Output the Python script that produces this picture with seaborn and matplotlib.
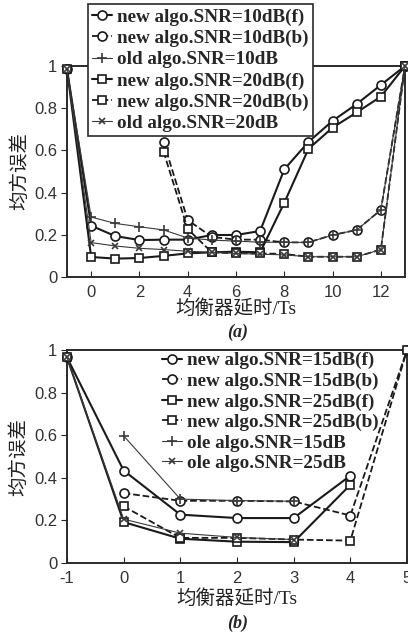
import numpy as np
import pandas as pd
import seaborn as sns
import matplotlib.pyplot as plt

nan = np.nan

# (a) delays -1..13
delay_a = [-1, 0, 1, 2, 3, 4, 5, 6, 7, 8, 9, 10, 11, 12, 13]
new10_f = [0.985, 0.243, 0.194, 0.175, 0.177, 0.177, 0.199, 0.199, 0.218, 0.51, 0.64, 0.74, 0.82, 0.91, 1.0]
new10_b = [nan, nan, nan, nan, 0.64, 0.27, 0.19, 0.177, 0.177, 0.164, 0.164, 0.199, 0.223, 0.318, 1.0]
old10 = [0.985, 0.284, 0.254, 0.238, 0.223, 0.185, 0.175, 0.17, 0.165, 0.164, 0.164, 0.199, 0.223, 0.318, 1.0]
new20_f = [0.985, 0.095, 0.087, 0.09, 0.10, 0.112, 0.117, 0.12, 0.117, 0.352, 0.607, 0.708, 0.78, 0.855, 1.0]
new20_b = [nan, nan, nan, nan, 0.594, 0.227, 0.117, 0.112, 0.112, 0.109, 0.096, 0.096, 0.096, 0.13, 1.0]
old20 = [0.985, 0.163, 0.147, 0.136, 0.13, 0.122, 0.117, 0.112, 0.108, 0.105, 0.096, 0.096, 0.096, 0.13, 1.0]

# (b) delays -1..5
delay_b = [-1, 0, 1, 2, 3, 4, 5]
new15_f = [0.965, 0.434, 0.227, 0.211, 0.211, 0.41, nan]
new15_b = [nan, 0.328, 0.292, 0.292, 0.289, 0.223, 1.0]
new25_f = [0.965, 0.192, 0.114, 0.10, 0.098, 0.367, nan]
new25_b = [nan, 0.266, 0.118, 0.118, 0.11, 0.105, 1.0]
ole15 = [nan, 0.597, 0.30, 0.293, 0.29, nan, nan]
ole25 = [0.965, 0.206, 0.14, 0.12, 0.11, nan, nan]

sns.set_style("ticks")
plt.rcParams["font.family"] = ["Liberation Sans", "Noto Sans CJK SC"]
plt.rcParams["axes.unicode_minus"] = False

ink = "#1a1a1a"
thin = "#3a3a3a"
cjk = ["Liberation Serif", "Noto Sans CJK SC"]

fig = plt.figure(figsize=(4.08, 6.33), dpi=100)
ax1 = fig.add_axes([67 / 408, 1 - 277 / 633, 338 / 408, 211 / 633])
ax2 = fig.add_axes([67 / 408, 1 - 563 / 633, 340 / 408, 213 / 633])


def draw(ax, x, y, label, marker, ls, lw, color, ms):
    df = pd.DataFrame({"x": x, "y": y}).dropna()
    sns.lineplot(data=df, x="x", y="y", ax=ax, label=label, marker=marker,
                 linestyle=ls, linewidth=lw, color=color, markersize=ms,
                 markerfacecolor="white", markeredgecolor=color,
                 markeredgewidth=1.2, clip_on=False, zorder=3)


draw(ax1, delay_a, new10_f, "new algo.SNR=10dB(f)", "o", "-", 1.5, ink, 6.5)
draw(ax1, delay_a, new10_b, "new algo.SNR=10dB(b)", "o", "--", 1.3, ink, 6.5)
draw(ax1, delay_a, old10, "old algo.SNR=10dB", "+", "-", 0.8, thin, 7)
draw(ax1, delay_a, new20_f, "new algo.SNR=20dB(f)", "s", "-", 1.5, ink, 5.5)
draw(ax1, delay_a, new20_b, "new algo.SNR=20dB(b)", "s", "--", 1.3, ink, 5.5)
draw(ax1, delay_a, old20, "old algo.SNR=20dB", "x", "-", 0.8, thin, 5)

draw(ax2, delay_b, new15_f, "new algo.SNR=15dB(f)", "o", "-", 1.5, ink, 6.5)
draw(ax2, delay_b, new15_b, "new algo.SNR=15dB(b)", "o", "--", 1.3, ink, 6.5)
draw(ax2, delay_b, new25_f, "new algo.SNR=25dB(f)", "s", "-", 1.5, ink, 5.5)
draw(ax2, delay_b, new25_b, "new algo.SNR=25dB(b)", "s", "--", 1.3, ink, 5.5)
draw(ax2, delay_b, ole15, "ole algo.SNR=15dB", "+", "-", 0.8, thin, 7)
draw(ax2, delay_b, ole25, "ole algo.SNR=25dB", "x", "-", 0.8, thin, 5)

yt = [0, 0.2, 0.4, 0.6, 0.8, 1]
ytl = ["0", "0.2", "0.4", "0.6", "0.8", "1"]
for ax, xlim, xt in [(ax1, (-1, 13), [0, 2, 4, 6, 8, 10, 12]),
                     (ax2, (-1, 5), [-1, 0, 1, 2, 3, 4, 5])]:
    ax.set_xlim(*xlim)
    ax.set_ylim(0, 1)
    ax.set_xticks(xt)
    ax.set_yticks(yt)
    ax.set_yticklabels(ytl)
    ax.tick_params(axis="x", direction="in", length=4, labelsize=12,
                   labelcolor="#333333", pad=6)
    ax.tick_params(axis="y", direction="out", length=4, labelsize=12,
                   labelcolor="#333333", pad=3)
    for s in ax.spines.values():
        s.set_visible(True)
        s.set_linewidth(1.4)
        s.set_color("#2a2a2a")
    ax.set_ylabel("均方误差", fontsize=14, family=cjk, color="#222222")
    ax.yaxis.set_label_coords(-0.14, 0.5)
    ax.yaxis.label.set_va("center")
    ax.set_xlabel("均衡器延时/Ts", fontsize=14, family=cjk, color="#222222")

ax1.xaxis.set_label_coords(0.5, -0.148)
ax1.xaxis.label.set_va("center")
ax2.xaxis.set_label_coords(0.5, -0.165)
ax2.xaxis.label.set_va("center")

leg_font = {"family": "Liberation Serif", "weight": "bold", "size": 13.8}
leg1 = ax1.legend(loc="upper left", bbox_to_anchor=(88 / 408, 1 - 4 / 633),
                  bbox_transform=fig.transFigure, borderaxespad=0, prop=leg_font,
                  handlelength=1.05, handletextpad=0.25, labelspacing=0.2,
                  borderpad=0.22, fancybox=False, framealpha=1, edgecolor="#2a2a2a")
leg1.get_frame().set_linewidth(1.2)
leg1.set_zorder(5)

leg2 = ax2.legend(loc="upper left", bbox_to_anchor=(162 / 408, 1 - 352 / 633),
                  bbox_transform=fig.transFigure, borderaxespad=0, prop=leg_font,
                  handlelength=1.05, handletextpad=0.25, labelspacing=0.16,
                  borderpad=0, frameon=False)

cap = {"family": "Liberation Serif", "weight": "bold", "style": "italic", "size": 13}
fig.text(238 / 408, 1 - 332 / 633, "(a)", ha="center", va="center", fontdict=cap)
fig.text(238 / 408, 1 - 623 / 633, "(b)", ha="center", va="center", fontdict=cap)

fig.savefig("out.png", dpi=100)
